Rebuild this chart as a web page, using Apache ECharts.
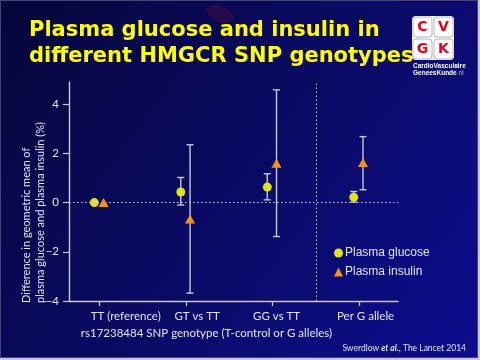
<!DOCTYPE html>
<html>
<head>
<meta charset="utf-8">
<script src="https://cdn.jsdelivr.net/npm/echarts@6/dist/echarts.min.js"></script>
<style>html,body{margin:0;padding:0;background:#c8c8d8}#c{width:480px;height:360px}</style>
</head>
<body>
<div id="c"></div>
<script>
// ---- data ----
var categories = ['TT (reference)', 'GT vs TT', 'GG vs TT', 'Per G allele'];
var glucose = [0, 0.43, 0.63, 0.22];
var glucoseLow = [null, -0.10, 0.11, 0.02];
var glucoseHigh = [null, 1.02, 1.17, 0.45];
var insulin = [0, -0.67, 1.60, 1.63];
var insulinLow = [null, -3.68, -1.38, 0.52];
var insulinHigh = [null, 2.35, 4.58, 2.68];
var yTicks = [-4, -2, 0, 2, 4];
var seriesNames = ['Plasma glucose', 'Plasma insulin'];

// ---- layout / style ----
var glucoseShift = -0.062, insulinShift = 0.045;
var labelShift = [26, 11, 4, 6.5];
var axisCol = '#c8c8da', textCol = '#e4e4ee';
var glucoseCol = '#dfe31b', insulinCol = '#f5921e';

function pts(vals, shift) {
  return vals.map(function (v, i) { return [i + shift, v]; });
}
function bars(lo, hi, shift) {
  var out = [];
  for (var i = 0; i < lo.length; i++) if (lo[i] !== null) out.push([i + shift, lo[i], hi[i]]);
  return out;
}
function errRender(params, api) {
  var x = api.value(0);
  var a = api.coord([x, api.value(1)]);
  var b = api.coord([x, api.value(2)]);
  var w = 3.5;
  var st = { stroke: axisCol, lineWidth: 1.4 };
  return { type: 'group', children: [
    { type: 'line', shape: { x1: a[0], y1: a[1], x2: b[0], y2: b[1] }, style: st },
    { type: 'line', shape: { x1: a[0] - w, y1: a[1], x2: a[0] + w, y2: a[1] }, style: st },
    { type: 'line', shape: { x1: b[0] - w, y1: b[1], x2: b[0] + w, y2: b[1] }, style: st }
  ]};
}
var rich = {};
labelShift.forEach(function (s, i) {
  rich['c' + i] = { color: textCol, fontSize: 11.5, fontFamily: 'Lato', padding: [0, 0, 0, 2 * s] };
});

var chart = echarts.init(document.getElementById('c'), null, { renderer: 'canvas' });
chart.setOption({
  animation: false,
  backgroundColor: {
    type: 'linear', x: 0, y: 0, x2: 1, y2: 1,
    colorStops: [{ offset: 0, color: '#06063a' }, { offset: 0.5, color: '#0a0a64' }, { offset: 1, color: '#0d0d90' }]
  },
  grid: { left: 69, right: 82, top: 82, bottom: 59 },
  xAxis: {
    type: 'value', min: -0.355, max: 3.45,
    axisLine: { show: true, onZero: false, lineStyle: { color: axisCol, width: 1.4 } },
    axisTick: { show: true, length: 5, customValues: [0, 1, 2, 3], lineStyle: { color: axisCol, width: 1.2 } },
    axisLabel: {
      customValues: [0, 1, 2, 3], margin: 9,
      formatter: function (v) { var i = Math.round(v); return '{c' + i + '|' + categories[i] + '}'; },
      rich: rich
    },
    splitLine: { show: false }
  },
  yAxis: {
    type: 'value', min: -4, max: 4.9, interval: 2,
    axisLine: { show: true, onZero: false, lineStyle: { color: axisCol, width: 1.4 } },
    axisTick: { show: true, length: 6, customValues: yTicks, lineStyle: { color: axisCol, width: 1.2 } },
    axisLabel: {
      customValues: yTicks, margin: 10, color: textCol, fontSize: 11.5, fontFamily: 'Lato',
      formatter: function (v) { return v < 0 ? '\u2212' + Math.abs(v) : String(v); }
    },
    splitLine: { show: false }
  },
  legend: {
    orient: 'vertical', left: 334, top: 247, padding: 0, itemWidth: 9, itemHeight: 9, itemGap: 7,
    textStyle: { color: textCol, fontSize: 12, fontFamily: 'Liberation Sans', padding: [0, 0, 0, -3] },
    data: [{ name: seriesNames[0], icon: 'circle' }, { name: seriesNames[1], icon: 'triangle' }]
  },
  series: [
    { type: 'custom', name: 'eg', renderItem: errRender, data: bars(glucoseLow, glucoseHigh, glucoseShift), z: 2, silent: true },
    { type: 'custom', name: 'ei', renderItem: errRender, data: bars(insulinLow, insulinHigh, insulinShift), z: 2, silent: true },
    {
      type: 'scatter', name: seriesNames[0], data: pts(glucose, glucoseShift), symbol: 'circle', symbolSize: 9,
      itemStyle: { color: glucoseCol, opacity: 1 }, z: 4,
      markLine: {
        silent: true, symbol: 'none', label: { show: false },
        data: [
          { yAxis: 0, lineStyle: { type: [1.5, 2.5], color: '#d4d4e4', width: 1 } },
          { xAxis: 2.5, lineStyle: { type: [1.5, 2.5], color: '#cfcfae', width: 1 } }
        ]
      }
    },
    {
      type: 'scatter', name: seriesNames[1], data: pts(insulin, insulinShift), symbol: 'triangle', symbolSize: [10, 9],
      itemStyle: { color: insulinCol, opacity: 1 }, z: 5
    }
  ],
  graphic: [
    { type: 'rect', shape: { x: 0.5, y: 0.5, width: 477, height: 357 }, style: { fill: 'none', stroke: '#44447a', lineWidth: 1 }, z: 100, silent: true },
    { type: 'rect', shape: { x: 478, y: 0, width: 2, height: 360 }, style: { fill: '#c8c8d8' }, z: 100, silent: true },
    { type: 'rect', shape: { x: 0, y: 358, width: 480, height: 2 }, style: { fill: '#c8c8d8' }, z: 100, silent: true },
    { type: 'ellipse', shape: { cx: 220, cy: 14, rx: 14, ry: 8 }, rotation: -0.4, originX: 220, originY: 14, style: { fill: 'rgba(110,20,50,0.3)' }, z: -1, silent: true },
    { type: 'text', x: 29, y: 31, style: { text: 'Plasma glucose and insulin in', fill: '#ffff00', font: 'bold 21px "DejaVu Sans"', textAlign: 'left', textVerticalAlign: 'middle' } },
    { type: 'text', x: 29, y: 57, style: { text: 'different HMGCR SNP genotypes', fill: '#ffff00', font: 'bold 21px "DejaVu Sans"', textAlign: 'left', textVerticalAlign: 'middle' } },
    // logo
    { type: 'rect', shape: { x: 412, y: 16, width: 42, height: 44, r: 4 }, style: { fill: '#ffffff' }, z: 50 },
    { type: 'rect', shape: { x: 413, y: 17, width: 19, height: 20, r: 3 }, style: { fill: '#fff', stroke: '#b4b4be', lineWidth: 1 }, z: 51 },
    { type: 'rect', shape: { x: 434, y: 17, width: 19, height: 20, r: 3 }, style: { fill: '#fff', stroke: '#b4b4be', lineWidth: 1 }, z: 51 },
    { type: 'rect', shape: { x: 413, y: 39, width: 19, height: 20, r: 3 }, style: { fill: '#fff', stroke: '#b4b4be', lineWidth: 1 }, z: 51 },
    { type: 'rect', shape: { x: 434, y: 39, width: 19, height: 20, r: 3 }, style: { fill: '#fff', stroke: '#b4b4be', lineWidth: 1 }, z: 51 },
    { type: 'text', x: 422.5, y: 27.5, z: 52, style: { text: 'C', fill: '#e2001a', font: 'bold 14px "DejaVu Sans"', textAlign: 'center', textVerticalAlign: 'middle' } },
    { type: 'text', x: 443.5, y: 27.5, z: 52, style: { text: 'V', fill: '#e2001a', font: 'bold 14px "DejaVu Sans"', textAlign: 'center', textVerticalAlign: 'middle' } },
    { type: 'text', x: 422.5, y: 49.5, z: 52, style: { text: 'G', fill: '#e2001a', font: 'bold 14px "DejaVu Sans"', textAlign: 'center', textVerticalAlign: 'middle' } },
    { type: 'text', x: 443.5, y: 49.5, z: 52, style: { text: 'K', fill: '#e2001a', font: 'bold 14px "DejaVu Sans"', textAlign: 'center', textVerticalAlign: 'middle' } },
    { type: 'text', x: 413, y: 66, z: 52, style: { text: 'CardioVasculaire', fill: '#ffffff', font: 'bold 6.5px "Liberation Sans"', textAlign: 'left', textVerticalAlign: 'middle' } },
    { type: 'text', x: 413, y: 73.5, z: 52, style: { text: '{a|GeneesKunde}{b|.nl}', rich: { a: { fill: '#ffffff', font: 'bold 6.5px "Liberation Sans"' }, b: { fill: '#b8b8c8', font: '6.5px "Liberation Sans"' } }, textAlign: 'left', textVerticalAlign: 'middle' } },
    // axis titles
    { type: 'text', x: 33, y: 303, rotation: Math.PI / 2, style: { text: 'Difference in geometric mean of\nplasma glucose and plasma insulin (%)', fill: textCol, font: '11px Lato', lineHeight: 14, textAlign: 'left', textVerticalAlign: 'middle' } },
    { type: 'text', x: 206.5, y: 333, style: { text: 'rs17238484 SNP genotype (T-control or G alleles)', fill: textCol, font: '11.5px Lato', textAlign: 'center', textVerticalAlign: 'middle' } },
    { type: 'text', x: 466, y: 348, style: { text: '{n|Swerdlow }{i|et al.}{n|, The Lancet 2014}', rich: { n: { fill: textCol, font: '8.5px Lato' }, i: { fill: textCol, font: 'italic bold 8.5px Lato' } }, textAlign: 'right', textVerticalAlign: 'middle' } }
  ]
});
</script>
</body>
</html>
